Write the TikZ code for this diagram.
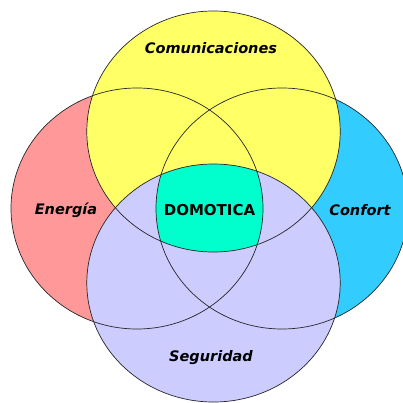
\documentclass[tikz,border=0pt]{standalone}
\usepackage{fontspec}
\newfontfamily\lblfont{DejaVu Sans}
\definecolor{cRed}{RGB}{255,153,153}
\definecolor{cCyan}{RGB}{51,204,255}
\definecolor{cYellow}{RGB}{255,255,102}
\definecolor{cLav}{RGB}{204,204,255}
\definecolor{cTeal}{RGB}{0,255,204}
\begin{document}
\begin{tikzpicture}[x=1pt,y=-1pt,
  rim/.style={draw=black!85,line width=0.7pt},
  area/.style={font=\lblfont\bfseries\itshape\fontsize{14.5}{17}\selectfont,inner sep=0pt},
  core/.style={font=\lblfont\bfseries\fontsize{15}{17}\selectfont,inner sep=0pt}]
\useasboundingbox (0,0) rectangle (403,403);
% ellipse paths
\def\EnePath{(137,208.5) ellipse [x radius=126pt, y radius=120.5pt]}
\def\ConPath{(282,208.5) ellipse [x radius=126pt, y radius=120.5pt]}
\def\ComPath{(213.5,131.5) ellipse [x radius=126.7pt, y radius=120.5pt]}
\def\SegPath{(213.5,283) ellipse [x radius=126.7pt, y radius=119pt]}
% fills, back to front
\fill[cRed] \EnePath;
\fill[cCyan] \ConPath;
\fill[cYellow] \ComPath;
\fill[cLav] \SegPath;
\begin{scope}
  \clip \EnePath;
  \clip \ConPath;
  \clip \ComPath;
  \fill[cTeal] \SegPath;
\end{scope}
% outlines
\draw[rim] \EnePath;
\draw[rim] \ConPath;
\draw[rim] \ComPath;
\draw[rim] \SegPath;
% labels
\node[area] (com) at (211,48.5) {Comunicaciones};
\node[area] (ene) at (66,210) {Energía};
\node[area] (con) at (360,210) {Confort};
\node[area] (seg) at (211,358) {Seguridad};
\node[core] (dom) at (209.5,210) {DOMOTICA};
\end{tikzpicture}
\end{document}
